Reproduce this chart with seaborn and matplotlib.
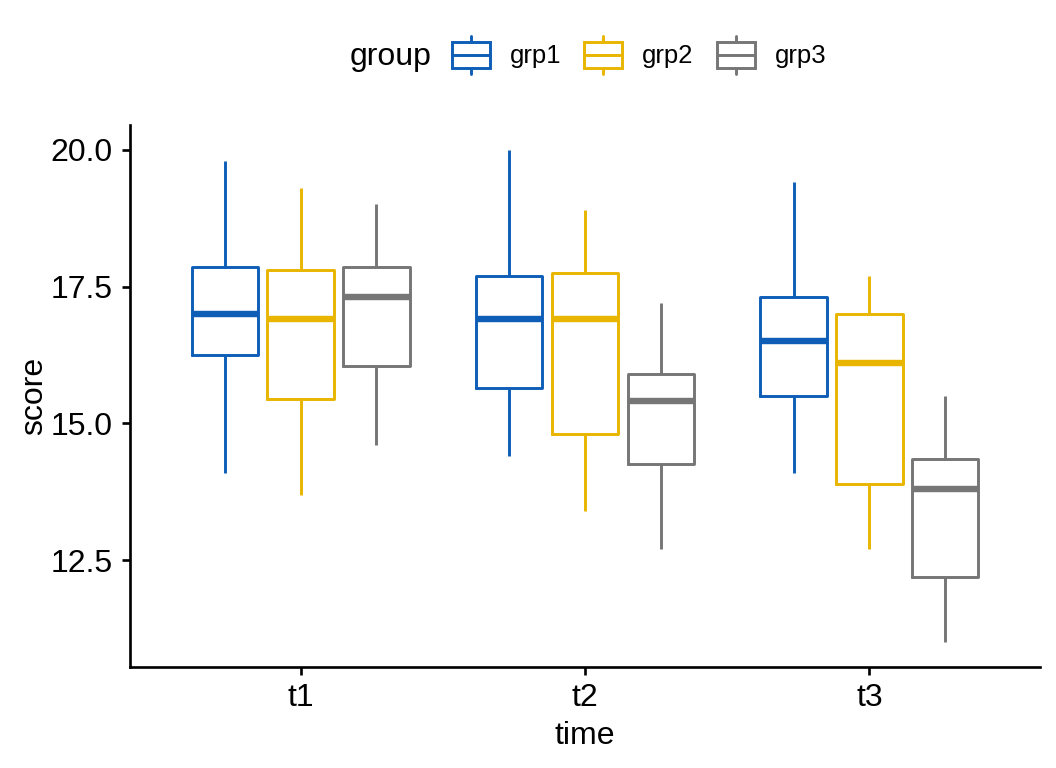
# -*- coding: utf-8 -*-
"""
Grouped boxplot of score by time and group (ggpubr-like look).
"""

import pandas as pd
import numpy as np
import matplotlib
matplotlib.use("Agg")
import matplotlib.pyplot as plt
from matplotlib.legend_handler import HandlerBase
from matplotlib.patches import Rectangle
from matplotlib.lines import Line2D
import seaborn as sns

# Step 1: five-number summaries (low whisker, q1, median, q3, high whisker)
times = ["t1", "t2", "t3"]
groups = ["grp1", "grp2", "grp3"]
colores = ["#0E5EB8", "#E8B500", "#767676"]

grp1_low = [14.1, 14.4, 14.1]
grp1_q1 = [16.25, 15.65, 15.5]
grp1_med = [17.0, 16.9, 16.5]
grp1_q3 = [17.85, 17.7, 17.3]
grp1_high = [19.8, 20.0, 19.4]

grp2_low = [13.7, 13.4, 12.7]
grp2_q1 = [15.45, 14.8, 13.9]
grp2_med = [16.9, 16.9, 16.1]
grp2_q3 = [17.8, 17.75, 17.0]
grp2_high = [19.3, 18.9, 17.7]

grp3_low = [14.6, 12.7, 11.0]
grp3_q1 = [16.05, 14.25, 12.2]
grp3_med = [17.3, 15.4, 13.8]
grp3_q3 = [17.85, 15.9, 14.35]
grp3_high = [19.0, 17.2, 15.5]

resumen = {
    "grp1": [grp1_low, grp1_q1, grp1_med, grp1_q3, grp1_high],
    "grp2": [grp2_low, grp2_q1, grp2_med, grp2_q3, grp2_high],
    "grp3": [grp3_low, grp3_q1, grp3_med, grp3_q3, grp3_high],
}

# Step 2: long table, five values per box -> quartiles fall exactly on q1/median/q3
filas = []
for g in groups:
    for i, t in enumerate(times):
        for serie in resumen[g]:
            filas.append({"time": t, "group": g, "score": serie[i]})
df = pd.DataFrame(filas)


# Legend key drawn like ggplot's boxplot glyph
class BoxKey(HandlerBase):
    def create_artists(self, legend, orig_handle, xdescent, ydescent,
                       width, height, fontsize, trans):
        c = orig_handle.get_color()
        x0, y0 = -xdescent, -ydescent
        cx = x0 + width / 2
        b0, b1 = y0 + 0.16 * height, y0 + 0.84 * height
        box = Rectangle((x0, b0), width, b1 - b0, facecolor="white",
                        edgecolor=c, lw=1.1, transform=trans)
        mid = Line2D([x0, x0 + width], [y0 + height / 2] * 2, color=c, lw=1.1, transform=trans)
        lo = Line2D([cx, cx], [y0, b0], color=c, lw=1.1, transform=trans)
        hi = Line2D([cx, cx], [b1, y0 + height], color=c, lw=1.1, transform=trans)
        return [lo, hi, box, mid]


# Step 3: plot
sns.set_style("ticks")
plt.rcParams["font.family"] = ["Liberation Sans", "DejaVu Sans"]
plt.rcParams["text.color"] = "black"
plt.rcParams["axes.labelcolor"] = "black"

fig = plt.figure(figsize=(5.5, 4), dpi=192)
ax = fig.add_axes([130 / 1056, 1 - 667 / 768, 910 / 1056, 542 / 768])

sns.boxplot(data=df, x="time", y="score", hue="group", order=times, hue_order=groups,
            palette=colores, fill=False, width=0.8, gap=0.125, whis=(0, 100),
            showcaps=False, linewidth=1.1, medianprops=dict(linewidth=2.4),
            legend=False, ax=ax)

lo, hi = df["score"].min(), df["score"].max()
pad = 0.05 * (hi - lo)
ax.set_ylim(lo - pad, hi + pad)
ax.set_xlim(-0.6, 2.6)
ax.set_yticks([12.5, 15.0, 17.5, 20.0])
ax.set_yticklabels([f"{v:.1f}" for v in [12.5, 15.0, 17.5, 20.0]])

for s in ["top", "right"]:
    ax.spines[s].set_visible(False)
for s in ["left", "bottom"]:
    ax.spines[s].set_linewidth(1.0)
    ax.spines[s].set_color("black")
ax.tick_params(axis="both", direction="out", length=3, width=1.0, color="black",
               labelsize=12, labelcolor="black")
ax.tick_params(axis="y", pad=3.5)
ax.tick_params(axis="x", pad=3)
ax.set_xlabel("time", fontsize=12, labelpad=3)
ax.set_ylabel("score", fontsize=12, labelpad=0.5)

# Legend across the top: title inline, then the three keys
proxies = [Line2D([], [], color=c) for c in colores]
fig.text(350 / 1056, 1 - 57 / 768, "group", fontsize=12, ha="left", va="center")
fig.legend(proxies, groups, handler_map={Line2D: BoxKey()}, ncol=3,
           loc="center left", bbox_to_anchor=(452 / 1056, 1 - 55 / 768),
           frameon=False, fontsize=9.6, borderpad=0, borderaxespad=0,
           handlelength=1.48, handleheight=1.85, handletextpad=0.78,
           columnspacing=0.9)

fig.savefig("out.png", dpi=192)
